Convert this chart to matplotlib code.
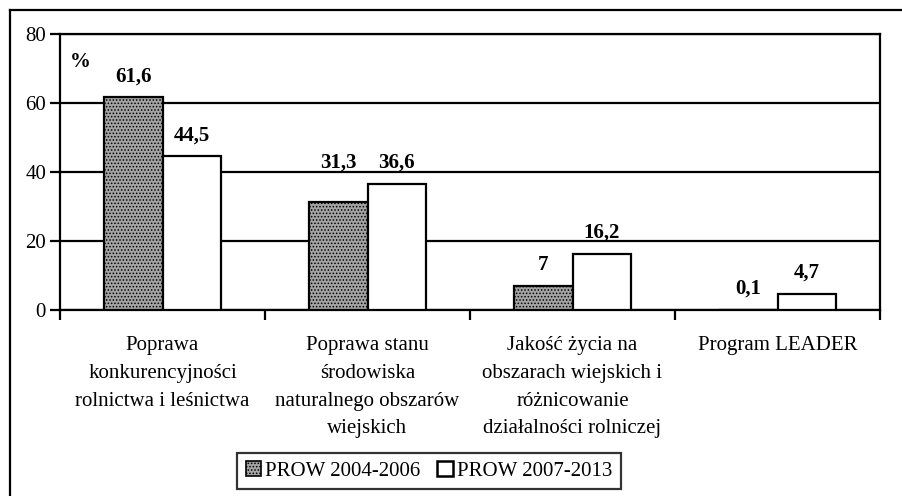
import numpy as np
import matplotlib.pyplot as plt
from matplotlib.lines import Line2D
from matplotlib.patches import Patch

plt.rcParams['font.family'] = ['Liberation Serif', 'DejaVu Serif']
plt.rcParams['hatch.color'] = '#4a4a4a'
plt.rcParams['hatch.linewidth'] = 0.7

# Dane
kategorie = [
    "Poprawa\nkonkurencyjności\nrolnictwa i leśnictwa",
    "Poprawa stanu\nśrodowiska\nnaturalnego obszarów\nwiejskich",
    "Jakość życia na\nobszarach wiejskich i\nróżnicowanie\ndziałalności rolniczej",
    "Program LEADER",
]
prow_2004 = [61.6, 31.3, 7, 0.1]
prow_2007 = [44.5, 36.6, 16.2, 4.7]
etykiety_2004 = ["61,6", "31,3", "7", "0,1"]
etykiety_2007 = ["44,5", "36,6", "16,2", "4,7"]
serie = ["PROW 2004-2006", "PROW 2007-2013"]

FS = 15
SZARY = '#a4a4a4'

fig = plt.figure(figsize=(9.02, 4.96), dpi=100)
ax = fig.add_axes([60/902, 1 - 310/496, 820/902, 276/496])

x = np.arange(len(kategorie))
w = 0.283
ax.bar(x - w/2, prow_2004, w, facecolor=SZARY, edgecolor='black',
       linewidth=1.6, hatch='.....', zorder=3)
ax.bar(x + w/2, prow_2007, w, facecolor='white', edgecolor='black',
       linewidth=1.6, zorder=3)

# etykiety wartosci (31,3 wyrownane do 36,6 jak w oryginale)
for xi, v, v2, t in zip(x - w/2, prow_2004, prow_2007, etykiety_2004):
    y = v2 if t == "31,3" else v
    ax.annotate(t, (xi, y), xytext=(0, 8), textcoords='offset points',
                ha='center', va='bottom', fontsize=FS, fontweight='bold')
for xi, v, t in zip(x + w/2, prow_2007, etykiety_2007):
    ax.annotate(t, (xi, v), xytext=(0, 8), textcoords='offset points',
                ha='center', va='bottom', fontsize=FS, fontweight='bold')

ax.text(0.012, 0.9, "%", transform=ax.transAxes, fontsize=FS, fontweight='bold',
        ha='left', va='center')

ax.set_xlim(-0.5, 3.5)
ax.set_ylim(0, 80)
ax.set_yticks([0, 20, 40, 60, 80])
ax.set_yticklabels(["0", "20", "40", "60", "80"], fontsize=FS)
ax.yaxis.grid(True, color='black', linewidth=1.6, zorder=0)
ax.set_axisbelow(True)

ax.set_xticks(x)
ax.set_xticklabels(kategorie, fontsize=FS, linespacing=1.62)
ax.tick_params(axis='x', length=0, pad=19)
ax.set_xticks(np.arange(-0.5, 4, 1), minor=True)
ax.tick_params(axis='x', which='minor', length=7, width=1.6, direction='out')
ax.tick_params(axis='y', length=7, width=1.6, direction='out', pad=3)
for s in ax.spines.values():
    s.set_linewidth(1.6)

# legenda
uchwyty = [Patch(facecolor=SZARY, edgecolor='black', hatch='.....', linewidth=1.2),
           Patch(facecolor='white', edgecolor='black', linewidth=1.8)]
leg = fig.legend(uchwyty, serie, loc='center', bbox_to_anchor=(429/902, 1 - 471/496),
                 ncol=2, fontsize=FS, frameon=True, fancybox=False,
                 handlelength=0.75, handleheight=0.75, handletextpad=0.2,
                 columnspacing=0.8, borderpad=0.4, borderaxespad=0)
leg.get_frame().set_edgecolor('black')
leg.get_frame().set_linewidth(1.6)

# ramka wykresu
fig.add_artist(Line2D([10/902, 10/902], [0, 1 - 10/496], color='black', linewidth=1.6))
fig.add_artist(Line2D([10/902, 1], [1 - 10/496, 1 - 10/496], color='black', linewidth=1.6))

plt.savefig("out.png", dpi=100)
